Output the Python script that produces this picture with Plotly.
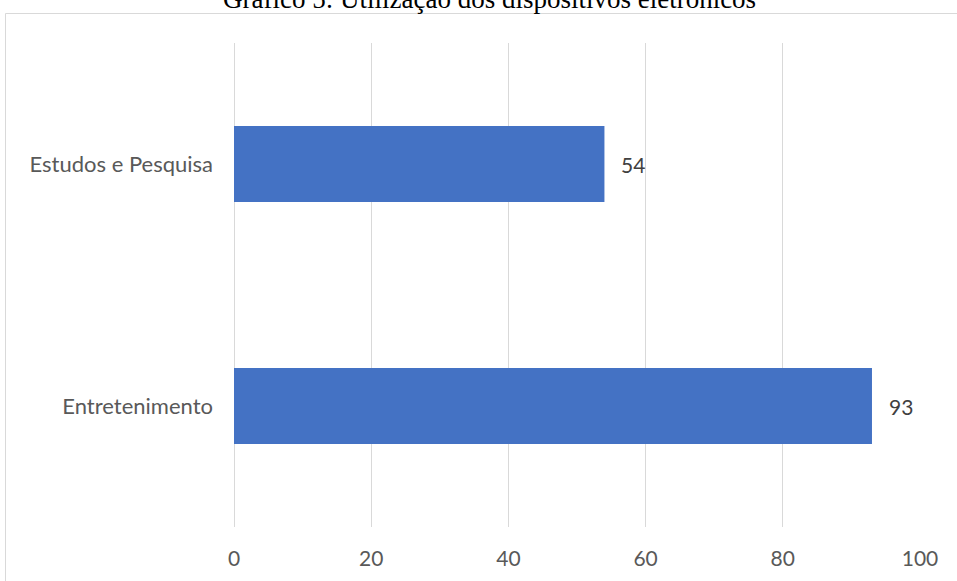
import plotly.graph_objects as go

categories = ["Entretenimento", "Estudos e Pesquisa"]
values = [93, 54]
x_ticks = [0, 20, 40, 60, 80, 100]
title_text = "Gráfico 5: Utilização dos dispositivos eletrônicos"

W, H = 957, 581
ml, mr, mt, mb = 234, 37, 43, 54
pw, ph = W - ml - mr, H - mt - mb

def px_x(p):
    return (p - ml) / pw

def px_y(p):
    return (H - mb - p) / ph

fig = go.Figure()
fig.add_trace(go.Bar(
    y=categories, x=values, orientation="h",
    marker=dict(color="#4472C4", line=dict(width=0)),
    width=0.314,
    hoverinfo="x+y",
))

for c, v in zip(categories, values):
    fig.add_annotation(x=v, y=c, text=str(v), xref="x", yref="y",
                       xanchor="left", yanchor="middle", xshift=15, showarrow=False,
                       font=dict(family="Lato", size=21, color="#404040"))

fig.update_layout(
    width=W, height=H,
    margin=dict(l=ml, r=mr, t=mt, b=mb, pad=0),
    paper_bgcolor="white", plot_bgcolor="white",
    showlegend=False,
    xaxis=dict(range=[0, 100], tickvals=x_ticks, showgrid=True, gridcolor="#d9d9d9", gridwidth=1,
               zeroline=True, zerolinecolor="#d9d9d9", zerolinewidth=1, showline=False, ticks="",
               tickfont=dict(family="Lato", size=21, color="#595959"), ticklabelstandoff=17),
    yaxis=dict(range=[-0.5, 1.5], showgrid=False, zeroline=False, showline=False, ticks="",
               tickfont=dict(family="Lato", size=22, color="#595959"), ticklabelstandoff=20),
    font=dict(family="Lato"),
)

fig.add_shape(type="rect", xref="paper", yref="paper",
              x0=px_x(5.5), x1=px_x(1000), y0=px_y(700), y1=px_y(13.5),
              line=dict(color="#d9d9d9", width=1), fillcolor="rgba(0,0,0,0)", layer="below")

fig.add_annotation(text=title_text, xref="paper", yref="paper",
                   x=px_x(489), y=px_y(16), xanchor="center", yanchor="bottom",
                   showarrow=False,
                   font=dict(family="Liberation Serif", size=27, color="#000000"))

fig.write_html("out.html")
